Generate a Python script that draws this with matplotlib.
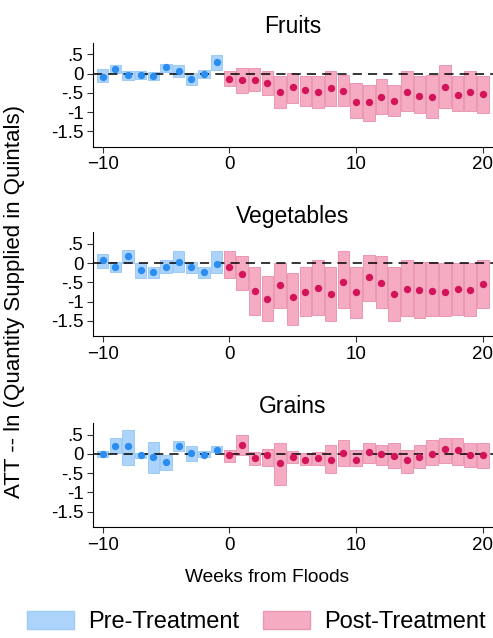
import numpy as np
import matplotlib.pyplot as plt
from matplotlib.patches import Patch

plt.rcParams['font.family'] = ['Liberation Sans', 'DejaVu Sans']

# event-time weeks
pre_weeks = np.arange(-10, 0)
post_weeks = np.arange(0, 21)

# ---- Fruits ----
fruits_pre = [-0.09, 0.12, -0.05, -0.03, -0.07, 0.16, 0.06, -0.14, 0.00, 0.29]
fruits_pre_hi = [0.12, 0.23, 0.06, 0.06, 0.03, 0.26, 0.23, 0.02, 0.09, 0.49]
fruits_pre_lo = [-0.22, 0.02, -0.17, -0.14, -0.17, 0.05, -0.09, -0.29, -0.11, 0.10]
fruits_post = [-0.13, -0.18, -0.17, -0.24, -0.48, -0.36, -0.43, -0.48, -0.37, -0.44,
               -0.74, -0.75, -0.61, -0.72, -0.48, -0.57, -0.61, -0.36, -0.55, -0.48, -0.53]
fruits_post_hi = [0.06, 0.15, 0.15, 0.06, -0.07, 0.02, -0.07, -0.07, 0.06, -0.03,
                  -0.24, -0.29, -0.14, -0.29, 0.06, -0.07, -0.05, 0.21, -0.07, 0.06, -0.07]
fruits_post_lo = [-0.33, -0.50, -0.46, -0.55, -0.89, -0.76, -0.85, -0.89, -0.85, -0.85,
                  -1.15, -1.23, -1.06, -1.11, -0.98, -1.02, -1.15, -0.89, -0.98, -0.98, -1.02]

# ---- Vegetables ----
veg_pre = [0.07, -0.09, 0.17, -0.17, -0.24, -0.09, 0.03, -0.11, -0.23, -0.03]
veg_pre_hi = [0.23, 0.04, 0.35, 0.00, -0.11, 0.09, 0.32, 0.04, -0.09, 0.30]
veg_pre_lo = [-0.13, -0.22, 0.00, -0.39, -0.39, -0.26, -0.22, -0.26, -0.39, -0.26]
veg_post = [-0.09, -0.29, -0.72, -0.93, -0.58, -0.89, -0.74, -0.65, -0.80, -0.48,
            -0.74, -0.37, -0.52, -0.80, -0.68, -0.69, -0.72, -0.75, -0.67, -0.69, -0.54]
veg_post_hi = [0.30, 0.17, -0.10, -0.34, 0.00, -0.26, -0.09, 0.09, -0.09, 0.30,
               -0.09, 0.22, 0.17, -0.09, 0.09, 0.04, 0.04, 0.00, 0.00, 0.00, 0.09]
veg_post_lo = [-0.39, -0.69, -1.34, -1.51, -1.16, -1.60, -1.38, -1.34, -1.51, -1.16,
               -1.42, -0.99, -1.16, -1.51, -1.38, -1.42, -1.38, -1.38, -1.34, -1.38, -1.16]

# ---- Grains ----
grain_pre = [0.00, 0.20, 0.20, -0.04, -0.09, -0.22, 0.20, 0.03, -0.02, 0.11]
grain_pre_hi = [0.07, 0.42, 0.63, 0.03, 0.30, -0.02, 0.33, 0.20, 0.07, 0.20]
grain_pre_lo = [-0.07, 0.03, -0.28, -0.10, -0.49, -0.41, 0.07, -0.19, -0.09, 0.04]
grain_post = [-0.04, 0.22, -0.10, -0.04, -0.25, -0.08, -0.15, -0.10, -0.15, 0.03,
              -0.15, 0.05, 0.00, -0.06, -0.17, -0.08, 0.00, 0.13, 0.09, -0.02, -0.03]
grain_post_hi = [0.11, 0.50, 0.04, 0.13, 0.27, 0.07, 0.03, 0.04, 0.24, 0.37,
                 0.11, 0.28, 0.24, 0.28, 0.11, 0.24, 0.37, 0.41, 0.41, 0.28, 0.28]
grain_post_lo = [-0.22, -0.02, -0.28, -0.32, -0.80, -0.24, -0.30, -0.28, -0.49, -0.32,
                 -0.32, -0.24, -0.28, -0.36, -0.49, -0.36, -0.29, -0.23, -0.29, -0.34, -0.36]

titles = ["Fruits", "Vegetables", "Grains"]
panels = [
    (fruits_pre, fruits_pre_lo, fruits_pre_hi, fruits_post, fruits_post_lo, fruits_post_hi),
    (veg_pre, veg_pre_lo, veg_pre_hi, veg_post, veg_post_lo, veg_post_hi),
    (grain_pre, grain_pre_lo, grain_pre_hi, grain_post, grain_post_lo, grain_post_hi),
]

xticks = [-10, 0, 10, 20]
yticks = [0.5, 0, -0.5, -1, -1.5]
ytick_labels = [".5", "0", "-.5", "-1", "-1.5"]

PRE_FILL, PRE_EDGE, PRE_DOT = "#acd4fb", "#9ccbf8", "#2b8df0"
POST_FILL, POST_EDGE, POST_DOT = "#f5abc2", "#eb97b2", "#d3145a"

fig = plt.figure(figsize=(4.93, 6.38), dpi=100)
bottoms = [0.770, 0.473, 0.174]
for title, (pre, pre_lo, pre_hi, post, post_lo, post_hi), b in zip(titles, panels, bottoms):
    ax = fig.add_axes([0.189, b, 0.811, 0.163])
    pre_lo, pre_hi = np.array(pre_lo), np.array(pre_hi)
    post_lo, post_hi = np.array(post_lo), np.array(post_hi)

    # confidence bands as boxes, point estimates on top
    ax.bar(pre_weeks, pre_hi - pre_lo, bottom=pre_lo, width=0.9,
           color=PRE_FILL, edgecolor=PRE_EDGE, linewidth=0.7, zorder=1)
    ax.bar(post_weeks, post_hi - post_lo, bottom=post_lo, width=0.9,
           color=POST_FILL, edgecolor=POST_EDGE, linewidth=0.7, zorder=1)
    ax.axhline(0, color="black", lw=1.1, dashes=(6, 4), zorder=2)
    ax.scatter(pre_weeks, pre, s=28, color=PRE_DOT, zorder=3, linewidths=0)
    ax.scatter(post_weeks, post, s=28, color=POST_DOT, zorder=3, linewidths=0)

    ax.set_xlim(-10.75, 20.8)
    ax.set_ylim(-1.9, 0.8)
    ax.set_xticks(xticks)
    ax.set_yticks(yticks)
    ax.set_yticklabels(ytick_labels)
    ax.tick_params(labelsize=13.5, length=4, width=0.8, color="#333333", pad=3)
    for side in ("top", "right"):
        ax.spines[side].set_visible(False)
    for side in ("left", "bottom"):
        ax.spines[side].set_linewidth(0.8)
    ax.set_title(title, fontsize=16.5, pad=7)

fig.text(0.542, 0.095, "Weeks from Floods", ha="center", va="center", fontsize=13.8)
fig.text(0.03, 0.527, "ATT -- ln (Quantity Supplied in Quintals)", rotation=90,
         ha="center", va="center", fontsize=16)

handles = [Patch(facecolor=PRE_FILL, edgecolor=PRE_EDGE, label="Pre-Treatment"),
           Patch(facecolor=POST_FILL, edgecolor=POST_EDGE, label="Post-Treatment")]
fig.legend(handles=handles, loc="center", bbox_to_anchor=(0.52, 0.025), ncol=2,
           frameon=False, fontsize=17, handlelength=2.0, handleheight=0.8,
           columnspacing=1.0, handletextpad=0.6)

fig.savefig("out.png", dpi=100)
